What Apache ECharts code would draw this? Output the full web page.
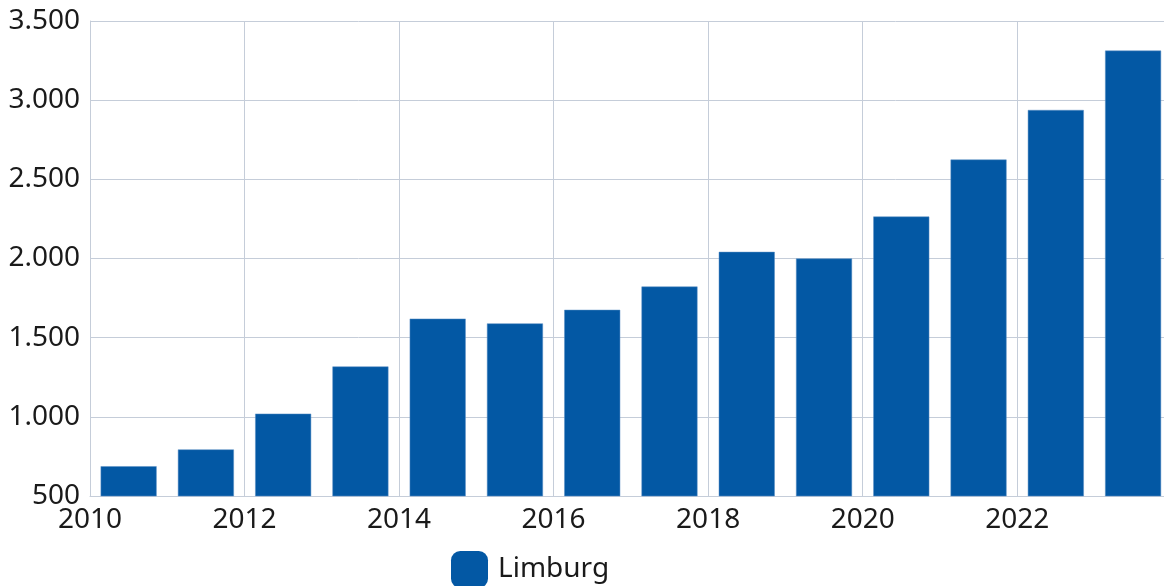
<!DOCTYPE html>
<html>
<head>
<meta charset="utf-8">
<script src="https://cdn.jsdelivr.net/npm/echarts@6/dist/echarts.min.js"></script>
<style>
html,body{margin:0;padding:0;background:#fff;}
#chart{width:1164px;height:586px;}
</style>
</head>
<body>
<div id="chart"></div>
<script>
const seriesName = 'Limburg';
const years = [2010, 2011, 2012, 2013, 2014, 2015, 2016, 2017, 2018, 2019, 2020, 2021, 2022, 2023];
const values = [688, 794, 1020, 1318, 1620, 1590, 1676, 1823, 2042, 2000, 2265, 2625, 2938, 3313];
const yTicks = {min: 500, max: 3500, interval: 500};
const xTicks = {min: 2010, max: 2023.9, interval: 2};

const fontFamily = '"Noto Sans", "Open Sans", sans-serif';
const chart = echarts.init(document.getElementById('chart'), null, {renderer: 'canvas'});
chart.setOption({
  animation: false,
  grid: {left: 90, right: 0, top: 21, bottom: 90, containLabel: false},
  legend: {
    data: [seriesName],
    left: 446, top: 546,
    icon: 'roundRect',
    itemWidth: 37, itemHeight: 37,
    itemStyle: {borderWidth: 0},
    textStyle: {fontFamily, fontSize: 28, color: '#1a1a1a', padding: [0, 0, 0, 5]}
  },
  xAxis: {
    type: 'value',
    min: xTicks.min, max: xTicks.max, interval: xTicks.interval,
    axisLine: {show: true, lineStyle: {color: '#c5cdd9', width: 1}},
    axisTick: {show: false},
    splitLine: {show: true, showMaxLine: false, lineStyle: {color: '#c5cdd9', width: 1}},
    axisLabel: {
      showMaxLabel: false,
      fontFamily, fontSize: 28, color: '#1a1a1a', margin: 10,
      formatter: v => String(v)
    }
  },
  yAxis: {
    type: 'value',
    min: yTicks.min, max: yTicks.max, interval: yTicks.interval,
    axisLine: {show: true, lineStyle: {color: '#c5cdd9', width: 1}},
    axisTick: {show: false},
    splitLine: {show: true, lineStyle: {color: '#c5cdd9', width: 1}},
    axisLabel: {
      fontFamily, fontSize: 28, color: '#1a1a1a', margin: 10,
      formatter: v => v.toLocaleString('de-DE')
    }
  },
  series: [{
    name: seriesName,
    type: 'bar',
    barWidth: 56,
    itemStyle: {color: '#0358a4', borderColor: '#5b8fc4', borderWidth: 0.5},
    data: years.map((y, i) => [y + 0.5, values[i]])
  }]
});
</script>
</body>
</html>
